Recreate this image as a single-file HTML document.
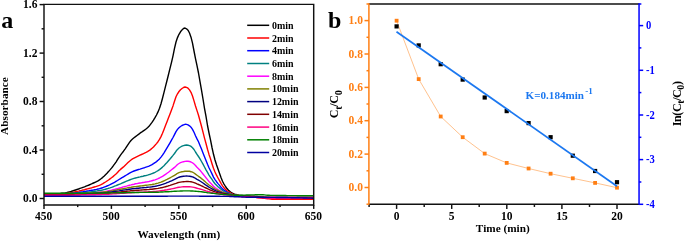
<!DOCTYPE html><html><head><meta charset="utf-8"><title>fig</title><style>html,body{margin:0;padding:0;background:#fff}svg{display:block}text{font-family:"Liberation Serif","Times New Roman",serif;font-weight:bold}</style></head><body>
<svg width="685" height="242" viewBox="0 0 685 242">
<rect width="685" height="242" fill="#fff"/>
<g fill="none" stroke-width="1.4" stroke-linejoin="round">
<path d="M44.0,193.6 L45.5,193.6 L47.0,193.6 L48.5,193.6 L50.0,193.6 L51.5,193.6 L53.0,193.6 L54.5,193.6 L56.0,193.6 L57.5,193.6 L59.0,193.6 L60.5,193.5 L62.0,193.3 L63.5,193.2 L65.0,193.0 L66.5,192.7 L68.0,192.3 L69.5,191.9 L71.0,191.5 L72.5,191.0 L74.0,190.5 L75.5,190.0 L77.0,189.5 L78.5,189.0 L80.0,188.4 L81.5,187.9 L83.0,187.3 L84.5,186.8 L86.0,186.2 L87.5,185.6 L89.0,185.0 L90.5,184.3 L92.0,183.7 L93.5,183.0 L95.0,182.3 L96.5,181.6 L98.0,180.8 L99.5,179.9 L101.0,178.8 L102.5,177.6 L104.0,176.2 L105.5,174.7 L107.0,173.2 L108.5,171.6 L110.0,169.9 L111.5,168.1 L113.0,166.2 L114.5,164.2 L116.0,162.1 L117.5,159.7 L119.0,157.3 L120.5,155.1 L122.0,153.1 L123.5,151.2 L125.0,149.1 L126.5,146.8 L128.0,144.6 L129.5,142.4 L131.0,140.5 L132.5,139.0 L134.0,137.7 L135.5,136.6 L137.0,135.5 L138.5,134.4 L140.0,133.2 L141.5,132.2 L143.0,131.1 L144.5,130.1 L146.0,129.0 L147.5,127.7 L149.0,126.2 L150.5,124.4 L152.0,122.4 L153.5,120.2 L155.0,117.7 L156.5,115.0 L158.0,111.9 L159.5,108.3 L161.0,103.7 L162.5,98.3 L164.0,92.4 L165.5,86.4 L167.0,80.5 L168.5,74.5 L170.0,68.4 L171.5,62.3 L173.0,55.8 L174.5,48.3 L176.0,42.0 L177.5,37.6 L179.0,34.3 L180.5,31.8 L182.0,29.9 L183.5,28.4 L185.0,28.0 L186.5,28.8 L188.0,30.2 L189.5,33.0 L191.0,37.2 L192.5,43.1 L194.0,51.0 L195.5,58.6 L197.0,65.6 L198.5,73.0 L200.0,81.6 L201.5,90.2 L203.0,99.0 L204.5,108.3 L206.0,116.4 L207.5,125.5 L209.0,133.0 L210.5,139.8 L212.0,147.5 L213.5,154.3 L215.0,160.0 L216.5,164.8 L218.0,169.1 L219.5,173.2 L221.0,177.4 L222.5,181.2 L224.0,184.1 L225.5,186.5 L227.0,188.6 L228.5,190.2 L230.0,191.5 L231.5,192.7 L233.0,193.5 L234.5,194.1 L236.0,194.5 L237.5,194.9 L239.0,195.2 L240.5,195.4 L242.0,195.5 L243.5,195.6 L245.0,195.7 L246.5,195.8 L248.0,195.9 L249.5,196.0 L251.0,196.1 L252.5,196.2 L254.0,196.3 L255.5,196.4 L257.0,196.5 L258.5,196.6 L260.0,196.7 L261.5,196.8 L263.0,196.9 L264.5,197.0 L266.0,197.1 L267.5,197.2 L269.0,197.3 L270.5,197.4 L272.0,197.5 L273.5,197.5 L275.0,197.5 L276.5,197.5 L278.0,197.5 L279.5,197.5 L281.0,197.5 L282.5,197.5 L284.0,197.5 L285.5,197.5 L287.0,197.5 L288.5,197.5 L290.0,197.5 L291.5,197.5 L293.0,197.5 L294.5,197.5 L296.0,197.5 L297.5,197.5 L299.0,197.5 L300.5,197.5 L302.0,197.5 L303.5,197.5 L305.0,197.5 L306.5,197.5 L308.0,197.5 L309.5,197.5 L311.0,197.5 L312.5,197.5 L313.5,197.5" stroke="#000000"/>
<path d="M44.0,194.0 L45.5,194.0 L47.0,194.0 L48.5,194.0 L50.0,194.0 L51.5,194.0 L53.0,194.0 L54.5,194.0 L56.0,194.0 L57.5,194.0 L59.0,194.0 L60.5,193.9 L62.0,193.9 L63.5,193.7 L65.0,193.6 L66.5,193.5 L68.0,193.2 L69.5,193.0 L71.0,192.7 L72.5,192.4 L74.0,192.1 L75.5,191.7 L77.0,191.4 L78.5,191.1 L80.0,190.7 L81.5,190.4 L83.0,190.0 L84.5,189.7 L86.0,189.3 L87.5,188.9 L89.0,188.5 L90.5,188.1 L92.0,187.7 L93.5,187.2 L95.0,186.8 L96.5,186.3 L98.0,185.8 L99.5,185.3 L101.0,184.6 L102.5,183.8 L104.0,182.9 L105.5,182.0 L107.0,181.0 L108.5,180.0 L110.0,178.9 L111.5,177.8 L113.0,176.6 L114.5,175.3 L116.0,173.9 L117.5,172.4 L119.0,170.8 L120.5,169.4 L122.0,168.1 L123.5,166.9 L125.0,165.5 L126.5,164.1 L128.0,162.6 L129.5,161.2 L131.0,160.0 L132.5,158.9 L134.0,158.1 L135.5,157.3 L137.0,156.6 L138.5,155.9 L140.0,155.2 L141.5,154.5 L143.0,153.8 L144.5,153.1 L146.0,152.4 L147.5,151.6 L149.0,150.7 L150.5,149.6 L152.0,148.3 L153.5,146.9 L155.0,145.3 L156.5,143.6 L158.0,141.7 L159.5,139.4 L161.0,136.6 L162.5,133.2 L164.0,129.4 L165.5,125.6 L167.0,121.7 L168.5,117.8 L170.0,113.9 L171.5,110.0 L173.0,105.9 L174.5,101.2 L176.0,96.8 L177.5,93.8 L179.0,91.5 L180.5,89.8 L182.0,88.5 L183.5,87.5 L185.0,87.0 L186.5,87.4 L188.0,88.2 L189.5,89.9 L191.0,92.3 L192.5,96.0 L194.0,100.9 L195.5,106.0 L197.0,110.6 L198.5,115.2 L200.0,120.8 L201.5,126.3 L203.0,132.1 L204.5,138.1 L206.0,143.5 L207.5,149.3 L209.0,154.4 L210.5,158.8 L212.0,163.7 L213.5,168.3 L215.0,172.0 L216.5,175.2 L218.0,178.0 L219.5,180.7 L221.0,183.4 L222.5,185.9 L224.0,187.8 L225.5,189.4 L227.0,190.7 L228.5,191.8 L230.0,192.7 L231.5,193.5 L233.0,194.1 L234.5,194.6 L236.0,194.9 L237.5,195.2 L239.0,195.5 L240.5,195.7 L242.0,195.8 L243.5,196.0 L245.0,196.2 L246.5,196.3 L248.0,196.5 L249.5,196.7 L251.0,196.8 L252.5,197.0 L254.0,197.2 L255.5,197.3 L257.0,197.5 L258.5,197.7 L260.0,197.8 L261.5,198.0 L263.0,198.2 L264.5,198.3 L266.0,198.5 L267.5,198.7 L269.0,198.9 L270.5,199.0 L272.0,199.2 L273.5,199.2 L275.0,199.2 L276.5,199.2 L278.0,199.2 L279.5,199.2 L281.0,199.2 L282.5,199.2 L284.0,199.2 L285.5,199.2 L287.0,199.2 L288.5,199.2 L290.0,199.2 L291.5,199.2 L293.0,199.3 L294.5,199.3 L296.0,199.3 L297.5,199.3 L299.0,199.3 L300.5,199.3 L302.0,199.3 L303.5,199.3 L305.0,199.3 L306.5,199.3 L308.0,199.3 L309.5,199.3 L311.0,199.3 L312.5,199.3 L313.5,199.3" stroke="#ff0000"/>
<path d="M44.0,194.3 L45.5,194.3 L47.0,194.3 L48.5,194.3 L50.0,194.3 L51.5,194.3 L53.0,194.3 L54.5,194.3 L56.0,194.3 L57.5,194.3 L59.0,194.3 L60.5,194.3 L62.0,194.2 L63.5,194.1 L65.0,194.1 L66.5,194.0 L68.0,193.8 L69.5,193.7 L71.0,193.5 L72.5,193.3 L74.0,193.1 L75.5,192.9 L77.0,192.7 L78.5,192.5 L80.0,192.2 L81.5,192.0 L83.0,191.8 L84.5,191.5 L86.0,191.3 L87.5,191.0 L89.0,190.8 L90.5,190.5 L92.0,190.2 L93.5,190.0 L95.0,189.7 L96.5,189.4 L98.0,189.0 L99.5,188.7 L101.0,188.2 L102.5,187.8 L104.0,187.2 L105.5,186.6 L107.0,186.0 L108.5,185.4 L110.0,184.7 L111.5,183.9 L113.0,183.1 L114.5,182.3 L116.0,181.4 L117.5,180.5 L119.0,179.5 L120.5,178.6 L122.0,177.7 L123.5,176.8 L125.0,175.9 L126.5,175.0 L128.0,174.1 L129.5,173.2 L131.0,172.4 L132.5,171.7 L134.0,171.0 L135.5,170.5 L137.0,170.0 L138.5,169.5 L140.0,169.1 L141.5,168.6 L143.0,168.1 L144.5,167.7 L146.0,167.2 L147.5,166.7 L149.0,166.1 L150.5,165.4 L152.0,164.6 L153.5,163.7 L155.0,162.7 L156.5,161.6 L158.0,160.3 L159.5,158.9 L161.0,157.1 L162.5,155.1 L164.0,152.8 L165.5,150.3 L167.0,147.8 L168.5,145.3 L170.0,142.8 L171.5,140.2 L173.0,137.5 L174.5,134.6 L176.0,131.6 L177.5,129.4 L179.0,127.7 L180.5,126.5 L182.0,125.5 L183.5,124.8 L185.0,124.3 L186.5,124.4 L188.0,124.9 L189.5,125.8 L191.0,127.2 L192.5,129.4 L194.0,132.3 L195.5,135.7 L197.0,138.9 L198.5,141.8 L200.0,145.4 L201.5,149.1 L203.0,152.9 L204.5,156.8 L206.0,160.5 L207.5,164.3 L209.0,167.8 L210.5,170.7 L212.0,173.9 L213.5,177.1 L215.0,179.6 L216.5,181.7 L218.0,183.6 L219.5,185.4 L221.0,187.2 L222.5,188.9 L224.0,190.2 L225.5,191.2 L227.0,192.1 L228.5,192.9 L230.0,193.6 L231.5,194.2 L233.0,194.6 L234.5,195.0 L236.0,195.3 L237.5,195.6 L239.0,195.8 L240.5,196.0 L242.0,196.1 L243.5,196.2 L245.0,196.3 L246.5,196.4 L248.0,196.5 L249.5,196.6 L251.0,196.7 L252.5,196.8 L254.0,196.9 L255.5,197.0 L257.0,197.0 L258.5,197.1 L260.0,197.2 L261.5,197.3 L263.0,197.4 L264.5,197.5 L266.0,197.6 L267.5,197.7 L269.0,197.8 L270.5,197.9 L272.0,198.0 L273.5,198.0 L275.0,198.0 L276.5,198.0 L278.0,198.0 L279.5,198.0 L281.0,198.0 L282.5,198.0 L284.0,198.0 L285.5,198.0 L287.0,198.0 L288.5,198.0 L290.0,198.0 L291.5,198.0 L293.0,198.0 L294.5,198.0 L296.0,198.0 L297.5,198.0 L299.0,198.0 L300.5,198.0 L302.0,198.0 L303.5,198.0 L305.0,198.0 L306.5,198.0 L308.0,198.0 L309.5,198.0 L311.0,198.0 L312.5,198.0 L313.5,198.0" stroke="#0000ff"/>
<path d="M44.0,194.5 L45.5,194.5 L47.0,194.5 L48.5,194.5 L50.0,194.5 L51.5,194.5 L53.0,194.5 L54.5,194.5 L56.0,194.5 L57.5,194.5 L59.0,194.5 L60.5,194.5 L62.0,194.4 L63.5,194.4 L65.0,194.3 L66.5,194.3 L68.0,194.2 L69.5,194.1 L71.0,194.0 L72.5,193.8 L74.0,193.7 L75.5,193.6 L77.0,193.4 L78.5,193.3 L80.0,193.1 L81.5,193.0 L83.0,192.8 L84.5,192.6 L86.0,192.5 L87.5,192.3 L89.0,192.1 L90.5,191.9 L92.0,191.7 L93.5,191.5 L95.0,191.3 L96.5,191.1 L98.0,190.8 L99.5,190.6 L101.0,190.3 L102.5,190.0 L104.0,189.6 L105.5,189.2 L107.0,188.8 L108.5,188.3 L110.0,187.9 L111.5,187.4 L113.0,186.8 L114.5,186.2 L116.0,185.7 L117.5,185.0 L119.0,184.4 L120.5,183.8 L122.0,183.1 L123.5,182.5 L125.0,181.8 L126.5,181.2 L128.0,180.6 L129.5,180.0 L131.0,179.4 L132.5,178.9 L134.0,178.4 L135.5,178.0 L137.0,177.6 L138.5,177.2 L140.0,176.9 L141.5,176.5 L143.0,176.2 L144.5,175.8 L146.0,175.5 L147.5,175.1 L149.0,174.6 L150.5,174.2 L152.0,173.6 L153.5,173.0 L155.0,172.3 L156.5,171.5 L158.0,170.6 L159.5,169.6 L161.0,168.4 L162.5,167.1 L164.0,165.7 L165.5,164.1 L167.0,162.5 L168.5,160.7 L170.0,159.0 L171.5,157.2 L173.0,155.4 L174.5,153.5 L176.0,151.3 L177.5,149.4 L179.0,148.0 L180.5,147.0 L182.0,146.2 L183.5,145.6 L185.0,145.2 L186.5,145.0 L188.0,145.2 L189.5,145.6 L191.0,146.4 L192.5,147.7 L194.0,149.5 L195.5,152.0 L197.0,154.3 L198.5,156.5 L200.0,158.8 L201.5,161.5 L203.0,164.2 L204.5,167.0 L206.0,169.8 L207.5,172.4 L209.0,175.1 L210.5,177.3 L212.0,179.4 L213.5,181.8 L215.0,183.7 L216.5,185.3 L218.0,186.7 L219.5,188.0 L221.0,189.3 L222.5,190.5 L224.0,191.5 L225.5,192.3 L227.0,192.9 L228.5,193.5 L230.0,194.0 L231.5,194.5 L233.0,194.9 L234.5,195.2 L236.0,195.5 L237.5,195.7 L239.0,195.9 L240.5,196.1 L242.0,196.2 L243.5,196.3 L245.0,196.4 L246.5,196.5 L248.0,196.6 L249.5,196.6 L251.0,196.7 L252.5,196.8 L254.0,196.9 L255.5,197.0 L257.0,197.1 L258.5,197.2 L260.0,197.3 L261.5,197.4 L263.0,197.5 L264.5,197.5 L266.0,197.6 L267.5,197.7 L269.0,197.8 L270.5,197.9 L272.0,198.0 L273.5,198.0 L275.0,198.0 L276.5,198.0 L278.0,198.0 L279.5,198.0 L281.0,198.0 L282.5,198.0 L284.0,198.0 L285.5,198.0 L287.0,198.0 L288.5,198.0 L290.0,198.0 L291.5,198.0 L293.0,198.0 L294.5,198.0 L296.0,198.0 L297.5,198.0 L299.0,198.0 L300.5,198.0 L302.0,198.0 L303.5,198.0 L305.0,198.0 L306.5,198.0 L308.0,198.0 L309.5,198.0 L311.0,198.0 L312.5,198.0 L313.5,198.0" stroke="#008080"/>
<path d="M44.0,195.0 L45.5,195.0 L47.0,195.0 L48.5,195.0 L50.0,195.0 L51.5,195.0 L53.0,195.0 L54.5,195.0 L56.0,195.0 L57.5,195.0 L59.0,195.0 L60.5,195.0 L62.0,194.9 L63.5,194.9 L65.0,194.9 L66.5,194.8 L68.0,194.8 L69.5,194.7 L71.0,194.6 L72.5,194.6 L74.0,194.5 L75.5,194.4 L77.0,194.3 L78.5,194.2 L80.0,194.1 L81.5,194.0 L83.0,193.9 L84.5,193.7 L86.0,193.6 L87.5,193.5 L89.0,193.4 L90.5,193.3 L92.0,193.1 L93.5,193.0 L95.0,192.8 L96.5,192.7 L98.0,192.5 L99.5,192.3 L101.0,192.1 L102.5,191.9 L104.0,191.7 L105.5,191.4 L107.0,191.1 L108.5,190.8 L110.0,190.5 L111.5,190.2 L113.0,189.8 L114.5,189.4 L116.0,189.0 L117.5,188.6 L119.0,188.2 L120.5,187.8 L122.0,187.3 L123.5,186.9 L125.0,186.5 L126.5,186.1 L128.0,185.6 L129.5,185.2 L131.0,184.9 L132.5,184.5 L134.0,184.2 L135.5,183.8 L137.0,183.6 L138.5,183.3 L140.0,183.0 L141.5,182.8 L143.0,182.5 L144.5,182.3 L146.0,182.0 L147.5,181.8 L149.0,181.5 L150.5,181.1 L152.0,180.7 L153.5,180.3 L155.0,179.9 L156.5,179.3 L158.0,178.7 L159.5,178.0 L161.0,177.2 L162.5,176.4 L164.0,175.4 L165.5,174.4 L167.0,173.3 L168.5,172.2 L170.0,171.0 L171.5,169.8 L173.0,168.6 L174.5,167.4 L176.0,166.0 L177.5,164.5 L179.0,163.5 L180.5,162.7 L182.0,162.2 L183.5,161.7 L185.0,161.4 L186.5,161.2 L188.0,161.3 L189.5,161.5 L191.0,162.0 L192.5,162.8 L194.0,164.0 L195.5,165.5 L197.0,167.2 L198.5,168.7 L200.0,170.3 L201.5,172.1 L203.0,174.0 L204.5,175.9 L206.0,177.8 L207.5,179.6 L209.0,181.5 L210.5,183.0 L212.0,184.5 L213.5,186.2 L215.0,187.5 L216.5,188.6 L218.0,189.6 L219.5,190.5 L221.0,191.4 L222.5,192.2 L224.0,192.9 L225.5,193.5 L227.0,193.9 L228.5,194.3 L230.0,194.7 L231.5,195.0 L233.0,195.3 L234.5,195.5 L236.0,195.6 L237.5,195.8 L239.0,195.9 L240.5,196.1 L242.0,196.1 L243.5,196.2 L245.0,196.2 L246.5,196.3 L248.0,196.4 L249.5,196.4 L251.0,196.5 L252.5,196.5 L254.0,196.6 L255.5,196.6 L257.0,196.7 L258.5,196.8 L260.0,196.8 L261.5,196.9 L263.0,196.9 L264.5,197.0 L266.0,197.1 L267.5,197.1 L269.0,197.2 L270.5,197.2 L272.0,197.3 L273.5,197.3 L275.0,197.3 L276.5,197.3 L278.0,197.3 L279.5,197.3 L281.0,197.3 L282.5,197.3 L284.0,197.3 L285.5,197.3 L287.0,197.3 L288.5,197.3 L290.0,197.3 L291.5,197.3 L293.0,197.3 L294.5,197.3 L296.0,197.3 L297.5,197.3 L299.0,197.3 L300.5,197.3 L302.0,197.3 L303.5,197.3 L305.0,197.3 L306.5,197.3 L308.0,197.3 L309.5,197.3 L311.0,197.3 L312.5,197.3 L313.5,197.3" stroke="#ff00ff"/>
<path d="M44.0,194.2 L45.5,194.2 L47.0,194.2 L48.5,194.2 L50.0,194.2 L51.5,194.2 L53.0,194.2 L54.5,194.2 L56.0,194.2 L57.5,194.2 L59.0,194.2 L60.5,194.2 L62.0,194.2 L63.5,194.1 L65.0,194.1 L66.5,194.1 L68.0,194.0 L69.5,194.0 L71.0,194.0 L72.5,193.9 L74.0,193.8 L75.5,193.8 L77.0,193.7 L78.5,193.6 L80.0,193.6 L81.5,193.5 L83.0,193.4 L84.5,193.3 L86.0,193.3 L87.5,193.2 L89.0,193.1 L90.5,193.0 L92.0,192.9 L93.5,192.8 L95.0,192.7 L96.5,192.6 L98.0,192.5 L99.5,192.4 L101.0,192.2 L102.5,192.1 L104.0,191.9 L105.5,191.8 L107.0,191.6 L108.5,191.4 L110.0,191.1 L111.5,190.9 L113.0,190.7 L114.5,190.4 L116.0,190.1 L117.5,189.8 L119.0,189.6 L120.5,189.3 L122.0,189.0 L123.5,188.7 L125.0,188.4 L126.5,188.1 L128.0,187.8 L129.5,187.5 L131.0,187.3 L132.5,187.0 L134.0,186.8 L135.5,186.6 L137.0,186.4 L138.5,186.2 L140.0,186.0 L141.5,185.9 L143.0,185.7 L144.5,185.5 L146.0,185.3 L147.5,185.1 L149.0,184.9 L150.5,184.7 L152.0,184.5 L153.5,184.2 L155.0,183.9 L156.5,183.5 L158.0,183.1 L159.5,182.6 L161.0,182.1 L162.5,181.5 L164.0,180.8 L165.5,180.1 L167.0,179.4 L168.5,178.6 L170.0,177.8 L171.5,177.0 L173.0,176.2 L174.5,175.3 L176.0,174.4 L177.5,173.3 L179.0,172.6 L180.5,172.1 L182.0,171.7 L183.5,171.5 L185.0,171.2 L186.5,171.1 L188.0,171.2 L189.5,171.3 L191.0,171.7 L192.5,172.2 L194.0,173.0 L195.5,174.1 L197.0,175.2 L198.5,176.3 L200.0,177.3 L201.5,178.6 L203.0,179.8 L204.5,181.1 L206.0,182.5 L207.5,183.7 L209.0,185.0 L210.5,186.0 L212.0,187.0 L213.5,188.2 L215.0,189.1 L216.5,189.8 L218.0,190.5 L219.5,191.1 L221.0,191.7 L222.5,192.3 L224.0,192.8 L225.5,193.1 L227.0,193.5 L228.5,193.8 L230.0,194.1 L231.5,194.4 L233.0,194.7 L234.5,194.9 L236.0,195.2 L237.5,195.4 L239.0,195.6 L240.5,195.7 L242.0,195.8 L243.5,195.9 L245.0,196.0 L246.5,196.1 L248.0,196.1 L249.5,196.2 L251.0,196.3 L252.5,196.4 L254.0,196.5 L255.5,196.6 L257.0,196.6 L258.5,196.7 L260.0,196.8 L261.5,196.9 L263.0,197.0 L264.5,197.1 L266.0,197.2 L267.5,197.2 L269.0,197.3 L270.5,197.4 L272.0,197.5 L273.5,197.5 L275.0,197.5 L276.5,197.5 L278.0,197.5 L279.5,197.5 L281.0,197.5 L282.5,197.5 L284.0,197.5 L285.5,197.5 L287.0,197.5 L288.5,197.5 L290.0,197.5 L291.5,197.5 L293.0,197.5 L294.5,197.5 L296.0,197.5 L297.5,197.5 L299.0,197.5 L300.5,197.5 L302.0,197.5 L303.5,197.5 L305.0,197.5 L306.5,197.5 L308.0,197.5 L309.5,197.5 L311.0,197.5 L312.5,197.5 L313.5,197.5" stroke="#808000"/>
<path d="M44.0,194.6 L45.5,194.6 L47.0,194.6 L48.5,194.6 L50.0,194.6 L51.5,194.6 L53.0,194.6 L54.5,194.6 L56.0,194.6 L57.5,194.6 L59.0,194.6 L60.5,194.6 L62.0,194.6 L63.5,194.6 L65.0,194.5 L66.5,194.5 L68.0,194.5 L69.5,194.4 L71.0,194.4 L72.5,194.4 L74.0,194.3 L75.5,194.3 L77.0,194.2 L78.5,194.2 L80.0,194.1 L81.5,194.0 L83.0,194.0 L84.5,193.9 L86.0,193.8 L87.5,193.8 L89.0,193.7 L90.5,193.6 L92.0,193.6 L93.5,193.5 L95.0,193.4 L96.5,193.3 L98.0,193.2 L99.5,193.1 L101.0,193.0 L102.5,192.9 L104.0,192.8 L105.5,192.6 L107.0,192.5 L108.5,192.3 L110.0,192.1 L111.5,191.9 L113.0,191.7 L114.5,191.5 L116.0,191.3 L117.5,191.1 L119.0,190.9 L120.5,190.6 L122.0,190.4 L123.5,190.1 L125.0,189.9 L126.5,189.7 L128.0,189.5 L129.5,189.2 L131.0,189.0 L132.5,188.8 L134.0,188.6 L135.5,188.5 L137.0,188.3 L138.5,188.2 L140.0,188.0 L141.5,187.9 L143.0,187.7 L144.5,187.6 L146.0,187.5 L147.5,187.3 L149.0,187.1 L150.5,187.0 L152.0,186.8 L153.5,186.5 L155.0,186.3 L156.5,186.0 L158.0,185.6 L159.5,185.3 L161.0,184.8 L162.5,184.4 L164.0,183.8 L165.5,183.3 L167.0,182.7 L168.5,182.1 L170.0,181.4 L171.5,180.8 L173.0,180.1 L174.5,179.4 L176.0,178.6 L177.5,177.8 L179.0,177.2 L180.5,176.8 L182.0,176.5 L183.5,176.3 L185.0,176.1 L186.5,176.0 L188.0,176.1 L189.5,176.2 L191.0,176.5 L192.5,176.9 L194.0,177.5 L195.5,178.4 L197.0,179.3 L198.5,180.1 L200.0,181.0 L201.5,182.0 L203.0,183.0 L204.5,184.1 L206.0,185.2 L207.5,186.1 L209.0,187.2 L210.5,188.0 L212.0,188.8 L213.5,189.7 L215.0,190.5 L216.5,191.1 L218.0,191.6 L219.5,192.1 L221.0,192.6 L222.5,193.1 L224.0,193.5 L225.5,193.8 L227.0,194.0 L228.5,194.3 L230.0,194.6 L231.5,194.9 L233.0,195.1 L234.5,195.3 L236.0,195.5 L237.5,195.7 L239.0,195.9 L240.5,196.1 L242.0,196.2 L243.5,196.2 L245.0,196.3 L246.5,196.4 L248.0,196.5 L249.5,196.6 L251.0,196.6 L252.5,196.7 L254.0,196.8 L255.5,196.9 L257.0,197.0 L258.5,197.1 L260.0,197.1 L261.5,197.2 L263.0,197.3 L264.5,197.4 L266.0,197.5 L267.5,197.6 L269.0,197.6 L270.5,197.7 L272.0,197.8 L273.5,197.8 L275.0,197.8 L276.5,197.8 L278.0,197.8 L279.5,197.8 L281.0,197.8 L282.5,197.8 L284.0,197.8 L285.5,197.8 L287.0,197.8 L288.5,197.8 L290.0,197.8 L291.5,197.8 L293.0,197.8 L294.5,197.8 L296.0,197.8 L297.5,197.8 L299.0,197.8 L300.5,197.8 L302.0,197.8 L303.5,197.8 L305.0,197.8 L306.5,197.8 L308.0,197.8 L309.5,197.8 L311.0,197.8 L312.5,197.8 L313.5,197.8" stroke="#000080"/>
<path d="M44.0,194.8 L45.5,194.8 L47.0,194.8 L48.5,194.8 L50.0,194.8 L51.5,194.8 L53.0,194.8 L54.5,194.8 L56.0,194.8 L57.5,194.8 L59.0,194.8 L60.5,194.8 L62.0,194.8 L63.5,194.8 L65.0,194.8 L66.5,194.7 L68.0,194.7 L69.5,194.7 L71.0,194.7 L72.5,194.6 L74.0,194.6 L75.5,194.6 L77.0,194.5 L78.5,194.5 L80.0,194.4 L81.5,194.4 L83.0,194.4 L84.5,194.3 L86.0,194.3 L87.5,194.2 L89.0,194.2 L90.5,194.1 L92.0,194.1 L93.5,194.0 L95.0,194.0 L96.5,193.9 L98.0,193.8 L99.5,193.8 L101.0,193.7 L102.5,193.6 L104.0,193.5 L105.5,193.4 L107.0,193.3 L108.5,193.2 L110.0,193.0 L111.5,192.9 L113.0,192.8 L114.5,192.6 L116.0,192.5 L117.5,192.3 L119.0,192.1 L120.5,192.0 L122.0,191.8 L123.5,191.6 L125.0,191.4 L126.5,191.3 L128.0,191.1 L129.5,191.0 L131.0,190.8 L132.5,190.7 L134.0,190.5 L135.5,190.4 L137.0,190.3 L138.5,190.2 L140.0,190.1 L141.5,190.0 L143.0,189.9 L144.5,189.8 L146.0,189.7 L147.5,189.6 L149.0,189.5 L150.5,189.3 L152.0,189.2 L153.5,189.0 L155.0,188.8 L156.5,188.6 L158.0,188.4 L159.5,188.1 L161.0,187.8 L162.5,187.5 L164.0,187.1 L165.5,186.7 L167.0,186.3 L168.5,185.8 L170.0,185.4 L171.5,184.9 L173.0,184.4 L174.5,183.9 L176.0,183.4 L177.5,182.8 L179.0,182.4 L180.5,182.1 L182.0,181.9 L183.5,181.7 L185.0,181.6 L186.5,181.5 L188.0,181.5 L189.5,181.6 L191.0,181.8 L192.5,182.1 L194.0,182.6 L195.5,183.2 L197.0,183.9 L198.5,184.5 L200.0,185.1 L201.5,185.8 L203.0,186.5 L204.5,187.3 L206.0,188.0 L207.5,188.7 L209.0,189.5 L210.5,190.1 L212.0,190.7 L213.5,191.3 L215.0,191.9 L216.5,192.3 L218.0,192.7 L219.5,193.0 L221.0,193.4 L222.5,193.7 L224.0,194.0 L225.5,194.2 L227.0,194.4 L228.5,194.6 L230.0,194.8 L231.5,195.1 L233.0,195.3 L234.5,195.5 L236.0,195.7 L237.5,195.9 L239.0,196.1 L240.5,196.3 L242.0,196.4 L243.5,196.4 L245.0,196.5 L246.5,196.6 L248.0,196.7 L249.5,196.8 L251.0,196.8 L252.5,196.9 L254.0,197.0 L255.5,197.1 L257.0,197.2 L258.5,197.3 L260.0,197.3 L261.5,197.4 L263.0,197.5 L264.5,197.6 L266.0,197.7 L267.5,197.8 L269.0,197.8 L270.5,197.9 L272.0,198.0 L273.5,198.0 L275.0,198.0 L276.5,198.0 L278.0,198.0 L279.5,198.0 L281.0,198.0 L282.5,198.0 L284.0,198.0 L285.5,198.0 L287.0,198.0 L288.5,198.0 L290.0,198.0 L291.5,198.0 L293.0,198.0 L294.5,198.0 L296.0,198.0 L297.5,198.0 L299.0,198.0 L300.5,198.0 L302.0,198.0 L303.5,198.0 L305.0,198.0 L306.5,198.0 L308.0,198.0 L309.5,198.0 L311.0,198.0 L312.5,198.0 L313.5,198.0" stroke="#800000"/>
<path d="M44.0,195.2 L45.5,195.2 L47.0,195.2 L48.5,195.2 L50.0,195.2 L51.5,195.2 L53.0,195.2 L54.5,195.2 L56.0,195.2 L57.5,195.2 L59.0,195.2 L60.5,195.2 L62.0,195.2 L63.5,195.2 L65.0,195.2 L66.5,195.2 L68.0,195.1 L69.5,195.1 L71.0,195.1 L72.5,195.1 L74.0,195.1 L75.5,195.0 L77.0,195.0 L78.5,195.0 L80.0,195.0 L81.5,194.9 L83.0,194.9 L84.5,194.9 L86.0,194.9 L87.5,194.8 L89.0,194.8 L90.5,194.8 L92.0,194.7 L93.5,194.7 L95.0,194.7 L96.5,194.6 L98.0,194.6 L99.5,194.5 L101.0,194.5 L102.5,194.4 L104.0,194.4 L105.5,194.3 L107.0,194.2 L108.5,194.2 L110.0,194.1 L111.5,194.0 L113.0,193.9 L114.5,193.8 L116.0,193.7 L117.5,193.6 L119.0,193.5 L120.5,193.4 L122.0,193.3 L123.5,193.2 L125.0,193.1 L126.5,193.0 L128.0,192.8 L129.5,192.7 L131.0,192.7 L132.5,192.6 L134.0,192.5 L135.5,192.4 L137.0,192.3 L138.5,192.3 L140.0,192.2 L141.5,192.1 L143.0,192.1 L144.5,192.0 L146.0,191.9 L147.5,191.9 L149.0,191.8 L150.5,191.7 L152.0,191.6 L153.5,191.5 L155.0,191.4 L156.5,191.3 L158.0,191.1 L159.5,190.9 L161.0,190.7 L162.5,190.5 L164.0,190.3 L165.5,190.0 L167.0,189.8 L168.5,189.5 L170.0,189.2 L171.5,188.9 L173.0,188.6 L174.5,188.3 L176.0,187.9 L177.5,187.5 L179.0,187.3 L180.5,187.1 L182.0,186.9 L183.5,186.8 L185.0,186.7 L186.5,186.7 L188.0,186.7 L189.5,186.8 L191.0,186.9 L192.5,187.1 L194.0,187.4 L195.5,187.8 L197.0,188.2 L198.5,188.6 L200.0,189.0 L201.5,189.4 L203.0,189.9 L204.5,190.4 L206.0,190.9 L207.5,191.3 L209.0,191.8 L210.5,192.2 L212.0,192.6 L213.5,193.0 L215.0,193.3 L216.5,193.6 L218.0,193.8 L219.5,194.1 L221.0,194.3 L222.5,194.5 L224.0,194.7 L225.5,194.8 L227.0,194.9 L228.5,195.1 L230.0,195.3 L231.5,195.5 L233.0,195.7 L234.5,195.9 L236.0,196.1 L237.5,196.3 L239.0,196.5 L240.5,196.6 L242.0,196.7 L243.5,196.8 L245.0,196.9 L246.5,196.9 L248.0,197.0 L249.5,197.1 L251.0,197.2 L252.5,197.3 L254.0,197.3 L255.5,197.4 L257.0,197.5 L258.5,197.6 L260.0,197.7 L261.5,197.7 L263.0,197.8 L264.5,197.9 L266.0,198.0 L267.5,198.1 L269.0,198.1 L270.5,198.2 L272.0,198.3 L273.5,198.3 L275.0,198.3 L276.5,198.3 L278.0,198.3 L279.5,198.3 L281.0,198.3 L282.5,198.3 L284.0,198.3 L285.5,198.3 L287.0,198.3 L288.5,198.3 L290.0,198.3 L291.5,198.3 L293.0,198.3 L294.5,198.3 L296.0,198.3 L297.5,198.3 L299.0,198.3 L300.5,198.3 L302.0,198.3 L303.5,198.3 L305.0,198.3 L306.5,198.3 L308.0,198.3 L309.5,198.3 L311.0,198.3 L312.5,198.3 L313.5,198.3" stroke="#ff0080"/>
<path d="M44.0,193.2 L45.5,193.2 L47.0,193.2 L48.5,193.2 L50.0,193.2 L51.5,193.2 L53.0,193.2 L54.5,193.2 L56.0,193.2 L57.5,193.2 L59.0,193.2 L60.5,193.2 L62.0,193.2 L63.5,193.2 L65.0,193.2 L66.5,193.2 L68.0,193.2 L69.5,193.2 L71.0,193.2 L72.5,193.2 L74.0,193.2 L75.5,193.2 L77.0,193.2 L78.5,193.2 L80.0,193.2 L81.5,193.2 L83.0,193.2 L84.5,193.2 L86.0,193.2 L87.5,193.1 L89.0,193.1 L90.5,193.1 L92.0,193.1 L93.5,193.1 L95.0,193.1 L96.5,193.1 L98.0,193.1 L99.5,193.1 L101.0,193.1 L102.5,193.0 L104.0,193.0 L105.5,193.0 L107.0,193.0 L108.5,193.0 L110.0,193.0 L111.5,192.9 L113.0,192.9 L114.5,192.9 L116.0,192.9 L117.5,192.8 L119.0,192.8 L120.5,192.8 L122.0,192.7 L123.5,192.7 L125.0,192.7 L126.5,192.6 L128.0,192.6 L129.5,192.6 L131.0,192.6 L132.5,192.5 L134.0,192.5 L135.5,192.5 L137.0,192.5 L138.5,192.5 L140.0,192.4 L141.5,192.4 L143.0,192.4 L144.5,192.4 L146.0,192.4 L147.5,192.4 L149.0,192.3 L150.5,192.3 L152.0,192.3 L153.5,192.3 L155.0,192.2 L156.5,192.2 L158.0,192.2 L159.5,192.1 L161.0,192.0 L162.5,192.0 L164.0,191.9 L165.5,191.8 L167.0,191.8 L168.5,191.7 L170.0,191.6 L171.5,191.5 L173.0,191.4 L174.5,191.3 L176.0,191.2 L177.5,191.1 L179.0,191.1 L180.5,191.0 L182.0,191.0 L183.5,190.9 L185.0,190.9 L186.5,190.9 L188.0,190.9 L189.5,190.9 L191.0,191.0 L192.5,191.0 L194.0,191.1 L195.5,191.2 L197.0,191.4 L198.5,191.5 L200.0,191.6 L201.5,191.8 L203.0,192.0 L204.5,192.2 L206.0,192.4 L207.5,192.7 L209.0,192.9 L210.5,193.1 L212.0,193.2 L213.5,193.4 L215.0,193.6 L216.5,193.8 L218.0,193.9 L219.5,194.1 L221.0,194.2 L222.5,194.4 L224.0,194.5 L225.5,194.6 L227.0,194.7 L228.5,194.8 L230.0,194.9 L231.5,195.0 L233.0,195.1 L234.5,195.2 L236.0,195.2 L237.5,195.3 L239.0,195.2 L240.5,195.2 L242.0,195.2 L243.5,195.1 L245.0,195.1 L246.5,195.0 L248.0,195.0 L249.5,195.0 L251.0,194.9 L252.5,194.9 L254.0,194.9 L255.5,194.8 L257.0,194.8 L258.5,194.8 L260.0,194.7 L261.5,194.7 L263.0,194.8 L264.5,194.9 L266.0,195.1 L267.5,195.2 L269.0,195.3 L270.5,195.4 L272.0,195.4 L273.5,195.4 L275.0,195.4 L276.5,195.5 L278.0,195.5 L279.5,195.5 L281.0,195.5 L282.5,195.5 L284.0,195.5 L285.5,195.5 L287.0,195.6 L288.5,195.6 L290.0,195.6 L291.5,195.6 L293.0,195.6 L294.5,195.6 L296.0,195.6 L297.5,195.7 L299.0,195.7 L300.5,195.7 L302.0,195.7 L303.5,195.7 L305.0,195.7 L306.5,195.7 L308.0,195.7 L309.5,195.8 L311.0,195.8 L312.5,195.8 L313.5,195.8" stroke="#008000"/>
<path d="M44.0,196.2 L45.5,196.2 L47.0,196.2 L48.5,196.2 L50.0,196.2 L51.5,196.2 L53.0,196.2 L54.5,196.2 L56.0,196.2 L57.5,196.2 L59.0,196.2 L60.5,196.2 L62.0,196.2 L63.5,196.2 L65.0,196.2 L66.5,196.2 L68.0,196.2 L69.5,196.2 L71.0,196.2 L72.5,196.2 L74.0,196.2 L75.5,196.2 L77.0,196.2 L78.5,196.2 L80.0,196.2 L81.5,196.2 L83.0,196.2 L84.5,196.2 L86.0,196.2 L87.5,196.2 L89.0,196.2 L90.5,196.3 L92.0,196.3 L93.5,196.3 L95.0,196.3 L96.5,196.3 L98.0,196.3 L99.5,196.3 L101.0,196.3 L102.5,196.3 L104.0,196.3 L105.5,196.3 L107.0,196.3 L108.5,196.3 L110.0,196.3 L111.5,196.3 L113.0,196.3 L114.5,196.3 L116.0,196.3 L117.5,196.3 L119.0,196.3 L120.5,196.3 L122.0,196.3 L123.5,196.3 L125.0,196.3 L126.5,196.3 L128.0,196.3 L129.5,196.3 L131.0,196.3 L132.5,196.3 L134.0,196.3 L135.5,196.3 L137.0,196.3 L138.5,196.3 L140.0,196.3 L141.5,196.3 L143.0,196.3 L144.5,196.3 L146.0,196.3 L147.5,196.3 L149.0,196.3 L150.5,196.3 L152.0,196.3 L153.5,196.3 L155.0,196.2 L156.5,196.2 L158.0,196.2 L159.5,196.2 L161.0,196.2 L162.5,196.2 L164.0,196.2 L165.5,196.2 L167.0,196.2 L168.5,196.1 L170.0,196.1 L171.5,196.1 L173.0,196.1 L174.5,196.1 L176.0,196.1 L177.5,196.1 L179.0,196.1 L180.5,196.1 L182.0,196.1 L183.5,196.1 L185.0,196.1 L186.5,196.1 L188.0,196.1 L189.5,196.1 L191.0,196.1 L192.5,196.1 L194.0,196.1 L195.5,196.1 L197.0,196.1 L198.5,196.1 L200.0,196.2 L201.5,196.2 L203.0,196.2 L204.5,196.2 L206.0,196.2 L207.5,196.2 L209.0,196.3 L210.5,196.3 L212.0,196.3 L213.5,196.3 L215.0,196.3 L216.5,196.3 L218.0,196.3 L219.5,196.3 L221.0,196.4 L222.5,196.4 L224.0,196.4 L225.5,196.4 L227.0,196.4 L228.5,196.4 L230.0,196.5 L231.5,196.5 L233.0,196.6 L234.5,196.7 L236.0,196.7 L237.5,196.8 L239.0,196.8 L240.5,196.9 L242.0,197.0 L243.5,197.0 L245.0,197.1 L246.5,197.2 L248.0,197.2 L249.5,197.3 L251.0,197.3 L252.5,197.3 L254.0,197.3 L255.5,197.3 L257.0,197.3 L258.5,197.3 L260.0,197.4 L261.5,197.4 L263.0,197.4 L264.5,197.4 L266.0,197.4 L267.5,197.4 L269.0,197.4 L270.5,197.4 L272.0,197.4 L273.5,197.4 L275.0,197.4 L276.5,197.5 L278.0,197.5 L279.5,197.5 L281.0,197.5 L282.5,197.5 L284.0,197.5 L285.5,197.5 L287.0,197.5 L288.5,197.6 L290.0,197.6 L291.5,197.7 L293.0,197.7 L294.5,197.7 L296.0,197.8 L297.5,197.8 L299.0,197.8 L300.5,197.9 L302.0,197.9 L303.5,198.0 L305.0,198.0 L306.5,198.0 L308.0,198.1 L309.5,198.1 L311.0,198.1 L312.5,198.2 L313.5,198.2" stroke="#0000a0"/>
</g>
<g stroke="#111" stroke-width="1.45" fill="none">
<path d="M44.0,4.35 H313.7 V204.9 H44.0 Z"/>
<path d="M44.0,198.5 h-4.4"/>
<path d="M44.0,174.3 h-2.4"/>
<path d="M44.0,150.0 h-4.4"/>
<path d="M44.0,125.8 h-2.4"/>
<path d="M44.0,101.5 h-4.4"/>
<path d="M44.0,77.3 h-2.4"/>
<path d="M44.0,53.1 h-4.4"/>
<path d="M44.0,28.8 h-2.4"/>
<path d="M44.0,4.6 h-4.4"/>
<path d="M44.0,204.9 v4.0"/>
<path d="M77.7,204.9 v2.2"/>
<path d="M111.4,204.9 v4.0"/>
<path d="M145.1,204.9 v2.2"/>
<path d="M178.8,204.9 v4.0"/>
<path d="M212.6,204.9 v2.2"/>
<path d="M246.3,204.9 v4.0"/>
<path d="M280.0,204.9 v2.2"/>
<path d="M313.7,204.9 v4.0"/>
</g>
<g font-size="11.5" fill="#000">
<text x="37.4" y="202.2" text-anchor="end">0.0</text>
<text x="37.4" y="153.7" text-anchor="end">0.4</text>
<text x="37.4" y="105.2" text-anchor="end">0.8</text>
<text x="37.4" y="56.8" text-anchor="end">1.2</text>
<text x="37.4" y="8.3" text-anchor="end">1.6</text>
<text x="43.7" y="220" text-anchor="middle">450</text>
<text x="111.1" y="220" text-anchor="middle">500</text>
<text x="178.5" y="220" text-anchor="middle">550</text>
<text x="246.0" y="220" text-anchor="middle">600</text>
<text x="313.4" y="220" text-anchor="middle">650</text>
</g>
<g font-size="11.25" fill="#000">
<text x="178.8" y="238.2" text-anchor="middle">Wavelength (nm)</text>
<text transform="translate(8.2,106.0) rotate(-90)" text-anchor="middle" font-size="11.3">Absorbance</text>
</g>
<text x="1.2" y="28.3" font-size="24" fill="#000">a</text>
<g font-size="10.4" fill="#000">
<path d="M247.2,25.3 H269.2" stroke="#000000" stroke-width="1.5"/>
<text transform="translate(271.9,28.8) scale(0.96,1.03)">0min</text>
<path d="M247.2,38.0 H269.2" stroke="#ff0000" stroke-width="1.5"/>
<text transform="translate(271.9,41.5) scale(0.96,1.03)">2min</text>
<path d="M247.2,50.7 H269.2" stroke="#0000ff" stroke-width="1.5"/>
<text transform="translate(271.9,54.2) scale(0.96,1.03)">4min</text>
<path d="M247.2,63.5 H269.2" stroke="#008080" stroke-width="1.5"/>
<text transform="translate(271.9,67.0) scale(0.96,1.03)">6min</text>
<path d="M247.2,76.2 H269.2" stroke="#ff00ff" stroke-width="1.5"/>
<text transform="translate(271.9,79.7) scale(0.96,1.03)">8min</text>
<path d="M247.2,88.9 H269.2" stroke="#808000" stroke-width="1.5"/>
<text transform="translate(271.9,92.4) scale(0.96,1.03)">10min</text>
<path d="M247.2,101.6 H269.2" stroke="#000080" stroke-width="1.5"/>
<text transform="translate(271.9,105.1) scale(0.96,1.03)">12min</text>
<path d="M247.2,114.3 H269.2" stroke="#800000" stroke-width="1.5"/>
<text transform="translate(271.9,117.8) scale(0.96,1.03)">14min</text>
<path d="M247.2,127.1 H269.2" stroke="#ff0080" stroke-width="1.5"/>
<text transform="translate(271.9,130.6) scale(0.96,1.03)">16min</text>
<path d="M247.2,139.8 H269.2" stroke="#008000" stroke-width="1.5"/>
<text transform="translate(271.9,143.3) scale(0.96,1.03)">18min</text>
<path d="M247.2,152.5 H269.2" stroke="#0000a0" stroke-width="1.5"/>
<text transform="translate(271.9,156.0) scale(0.96,1.03)">20min</text>
</g>
<path d="M396.6,20.7 L418.7,79.1 L440.7,116.5 L462.7,137.2 L484.7,153.6 L506.7,162.9 L528.6,168.5 L550.6,173.7 L572.8,178.3 L595.1,182.9 L617.0,187.7" fill="none" stroke="#ff8f30" stroke-width="0.55"/>
<rect x="394.7" y="18.8" width="3.8" height="3.8" fill="#ff7f14"/>
<rect x="416.8" y="77.2" width="3.8" height="3.8" fill="#ff7f14"/>
<rect x="438.8" y="114.6" width="3.8" height="3.8" fill="#ff7f14"/>
<rect x="460.8" y="135.3" width="3.8" height="3.8" fill="#ff7f14"/>
<rect x="482.8" y="151.7" width="3.8" height="3.8" fill="#ff7f14"/>
<rect x="504.8" y="161.0" width="3.8" height="3.8" fill="#ff7f14"/>
<rect x="526.7" y="166.6" width="3.8" height="3.8" fill="#ff7f14"/>
<rect x="548.7" y="171.8" width="3.8" height="3.8" fill="#ff7f14"/>
<rect x="570.9" y="176.4" width="3.8" height="3.8" fill="#ff7f14"/>
<rect x="593.2" y="181.0" width="3.8" height="3.8" fill="#ff7f14"/>
<rect x="615.1" y="185.8" width="3.8" height="3.8" fill="#ff7f14"/>
<rect x="394.5" y="24.3" width="4.2" height="4.2" fill="#000"/>
<rect x="416.6" y="43.3" width="4.2" height="4.2" fill="#000"/>
<rect x="438.6" y="62.1" width="4.2" height="4.2" fill="#000"/>
<rect x="460.6" y="77.5" width="4.2" height="4.2" fill="#000"/>
<rect x="482.6" y="95.4" width="4.2" height="4.2" fill="#000"/>
<rect x="504.6" y="109.0" width="4.2" height="4.2" fill="#000"/>
<rect x="526.5" y="121.0" width="4.2" height="4.2" fill="#000"/>
<rect x="548.5" y="135.1" width="4.2" height="4.2" fill="#000"/>
<rect x="570.7" y="153.6" width="4.2" height="4.2" fill="#000"/>
<rect x="593.0" y="168.9" width="4.2" height="4.2" fill="#000"/>
<rect x="614.9" y="180.1" width="4.2" height="4.2" fill="#000"/>
<path d="M396.5,31.7 L617,186.2" stroke="#1c78f0" stroke-width="1.7" fill="none"/>
<path d="M368.9,4.0 H639.05" stroke="#111" stroke-width="1.45"/>
<path d="M368.9,204.15 H639.05" stroke="#111" stroke-width="1.45"/>
<g stroke="#111" stroke-width="1.45">
<path d="M369.1,204.15 v2.8"/>
<path d="M396.6,204.15 v4.8"/>
<path d="M424.2,204.15 v2.8"/>
<path d="M451.7,204.15 v4.8"/>
<path d="M479.2,204.15 v2.8"/>
<path d="M506.8,204.15 v4.8"/>
<path d="M534.4,204.15 v2.8"/>
<path d="M561.9,204.15 v4.8"/>
<path d="M589.5,204.15 v2.8"/>
<path d="M617.0,204.15 v4.8"/>
</g>
<g stroke="#ff7f14" stroke-width="1.5">
<path d="M368.9,3.3 V204.85"/>
<path d="M368.9,204.2 h-2.4"/>
<path d="M368.9,187.5 h-4.4"/>
<path d="M368.9,170.8 h-2.4"/>
<path d="M368.9,154.1 h-4.4"/>
<path d="M368.9,137.4 h-2.4"/>
<path d="M368.9,120.7 h-4.4"/>
<path d="M368.9,104.0 h-2.4"/>
<path d="M368.9,87.4 h-4.4"/>
<path d="M368.9,70.7 h-2.4"/>
<path d="M368.9,54.0 h-4.4"/>
<path d="M368.9,37.3 h-2.4"/>
<path d="M368.9,20.6 h-4.4"/>
<path d="M368.9,4.0 h-2.4"/>
</g>
<g stroke="#0000ff" stroke-width="1.5">
<path d="M639.05,3.3 V204.85"/>
<path d="M639.05,4.0 h2.3"/>
<path d="M639.05,25.6 h4.15"/>
<path d="M639.05,47.9 h2.3"/>
<path d="M639.05,70.3 h4.15"/>
<path d="M639.05,92.6 h2.3"/>
<path d="M639.05,115.0 h4.15"/>
<path d="M639.05,137.3 h2.3"/>
<path d="M639.05,159.6 h4.15"/>
<path d="M639.05,182.0 h2.3"/>
<path d="M639.05,204.3 h4.15"/>
</g>
<g font-size="11.5" fill="#ff7f14">
<text x="362.9" y="191.2" text-anchor="end">0.0</text>
<text x="362.9" y="157.8" text-anchor="end">0.2</text>
<text x="362.9" y="124.4" text-anchor="end">0.4</text>
<text x="362.9" y="91.1" text-anchor="end">0.6</text>
<text x="362.9" y="57.7" text-anchor="end">0.8</text>
<text x="362.9" y="24.3" text-anchor="end">1.0</text>
</g>
<g font-size="11.2" fill="#0000ff">
<text transform="translate(646,29.2) scale(0.95,1.02)">0</text>
<text transform="translate(646,73.9) scale(0.95,1.02)">-1</text>
<text transform="translate(646,118.6) scale(0.95,1.02)">-2</text>
<text transform="translate(646,163.2) scale(0.95,1.02)">-3</text>
<text transform="translate(646,207.9) scale(0.95,1.02)">-4</text>
</g>
<g font-size="11.5" fill="#000">
<text x="396.6" y="219.9" text-anchor="middle">0</text>
<text x="451.7" y="219.9" text-anchor="middle">5</text>
<text x="506.8" y="219.9" text-anchor="middle">10</text>
<text x="561.9" y="219.9" text-anchor="middle">15</text>
<text x="617.0" y="219.9" text-anchor="middle">20</text>
</g>
<g font-size="12" fill="#000">
<text x="502.8" y="232.4" text-anchor="middle" font-size="11.25">Time (min)</text>
<text transform="translate(338.4,104.3) rotate(-90)" text-anchor="middle" font-size="12" letter-spacing="-0.3">C<tspan font-size="10.3" dy="3.7">t</tspan><tspan dy="-3.7">/C</tspan><tspan font-size="10.3" dy="3.7">0</tspan></text>
<text transform="translate(680.8,103.8) rotate(-90)" text-anchor="middle" font-size="12" letter-spacing="-0.4">In(C<tspan font-size="10" dy="3.6">t</tspan><tspan dy="-3.6">/C</tspan><tspan font-size="10" dy="3.6">0</tspan><tspan dy="-3.6">)</tspan></text>
</g>
<text x="328" y="28.3" font-size="24" fill="#000">b</text>
<text x="525.6" y="99" font-size="11.1" fill="#1c78f0">K=0.184min<tspan font-size="9" dy="-5" dx="1.2">-1</tspan></text>
</svg></body></html>
